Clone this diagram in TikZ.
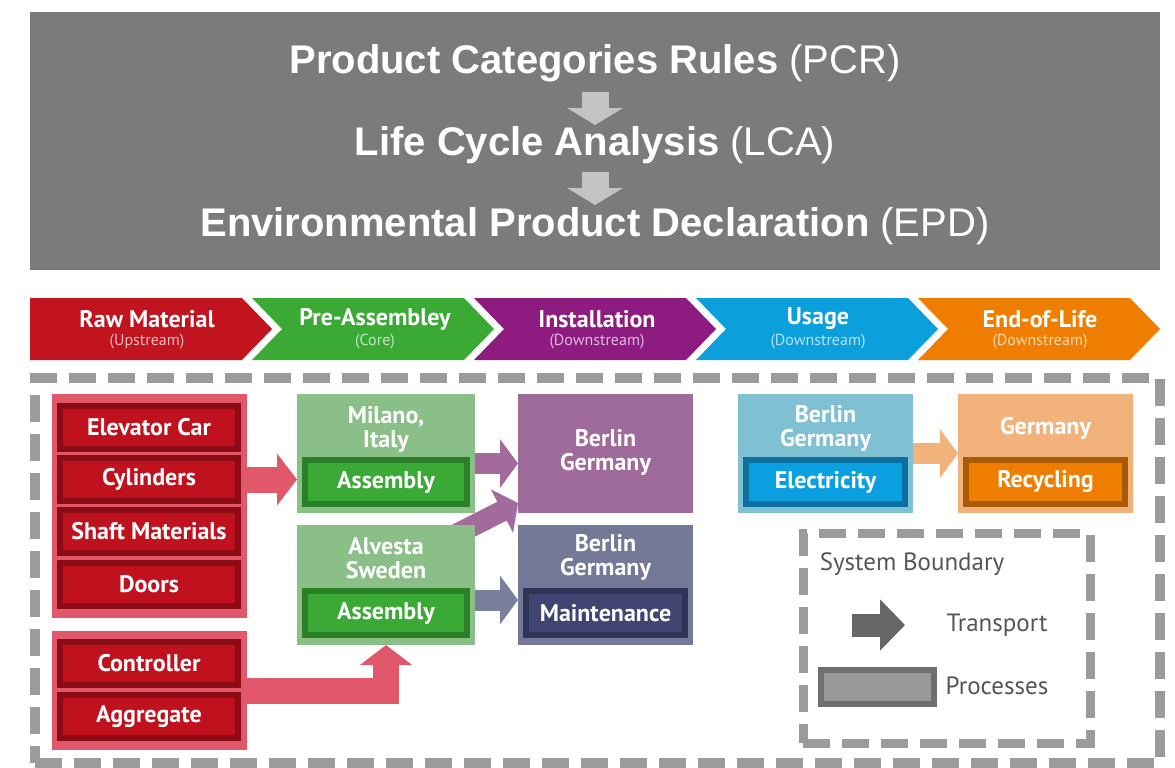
\documentclass[tikz,border=0pt]{standalone}
\usepackage{fontspec}
\setmainfont{PT Sans}
\newfontfamily\headfont{Liberation Sans}
\usetikzlibrary{arrows.meta, positioning}

\definecolor{bannergray}{HTML}{7B7B7B}
\definecolor{bannerarrow}{HTML}{C4C4C4}
\definecolor{rawred}{HTML}{C1141F}
\definecolor{coregreen}{HTML}{3AAA35}
\definecolor{instpurple}{HTML}{8E1B7F}
\definecolor{useblue}{HTML}{0BA0DC}
\definecolor{eolorange}{HTML}{EF7D00}
\definecolor{lightred}{HTML}{E0586A}
\definecolor{partred}{HTML}{C0121E}
\definecolor{partedge}{HTML}{8C0C16}
\definecolor{lightgreen}{HTML}{8BBF88}
\definecolor{asmgreen}{HTML}{3AA935}
\definecolor{asmedge}{HTML}{2A7F27}
\definecolor{boxpurple}{HTML}{9F6B9B}
\definecolor{arrowpurple}{HTML}{A36A9C}
\definecolor{boxslate}{HTML}{737997}
\definecolor{maintslate}{HTML}{3F4470}
\definecolor{maintedge}{HTML}{30345A}
\definecolor{arrowslate}{HTML}{7A7F9E}
\definecolor{lightblue}{HTML}{7FC0D3}
\definecolor{elecblue}{HTML}{0AA0E0}
\definecolor{elecedge}{HTML}{0B6FA0}
\definecolor{lightorange}{HTML}{F2B27C}
\definecolor{recyorange}{HTML}{EF7E00}
\definecolor{recyedge}{HTML}{A95A06}
\definecolor{boundgray}{HTML}{9B9B9B}
\definecolor{legendtext}{HTML}{555555}

\begin{document}
\begin{tikzpicture}[x=1pt, y=-1pt,
    headline/.style={text=white, font=\headfont\fontsize{40}{44}\selectfont, inner sep=0pt},
    downarrow/.style={bannerarrow, line width=27pt, -{Triangle[length=17pt, width=55pt]}},
    stagetitle/.style={text=white, font=\fontsize{24}{26}\selectfont\bfseries},
    stagesub/.style={font=\fontsize{16}{18}\selectfont},
    group/.style={fill=lightred, minimum width=195pt, outer sep=0pt},
    part/.style={draw=partedge, fill=partred, line width=6pt, minimum width=178pt, minimum height=43pt,
        text=white, font=\fontsize{24}{26}\selectfont\bfseries, outer sep=0pt, inner sep=0pt},
    site/.style={minimum width=178pt, minimum height=119pt, outer sep=0pt},
    sitetxt/.style={text=white, font=\fontsize{24}{24}\selectfont\bfseries, align=center, inner sep=0pt},
    proc/.style={line width=6pt, minimum width=162pt, minimum height=44pt, outer sep=0pt, inner sep=0pt,
        text=white, font=\fontsize{24}{26}\selectfont\bfseries},
    bigarrow/.style={line width=26pt, -{Triangle[length=20pt, width=51pt]}},
    midarrow/.style={line width=21pt, -{Triangle[length=18pt, width=48pt]}},
    bounds/.style={draw=boundgray, line width=10pt, dash pattern=on 27pt off 12pt},
    legendtxt/.style={text=legendtext, font=\fontsize{25}{28}\selectfont, inner sep=0pt}
]
    \useasboundingbox (0,0) rectangle (1175,768);

    % header banner
    \node[fill=bannergray, minimum width=1130pt, minimum height=258pt] (banner) at (595,141) {};
    \node[headline] (pcr) at (595,63) {{\bfseries Product Categories Rules} (PCR)};
    \node[headline] (lca) at (595,145) {{\bfseries Life Cycle Analysis} (LCA)};
    \node[headline] (epd) at (595,226) {{\bfseries Environmental Product Declaration} (EPD)};
    \draw[downarrow] ([yshift=-29pt]pcr.center) -- ([yshift=-62pt]pcr.center);
    \draw[downarrow] ([yshift=-27pt]lca.center) -- ([yshift=-60pt]lca.center);

    % life cycle stages
    \fill[rawred] (30,298) -- (242,298) -- (272,329) -- (242,360) -- (30,360) -- cycle;
    \fill[coregreen] (252,298) -- (464,298) -- (494,329) -- (464,360) -- (252,360) -- (282,329) -- cycle;
    \fill[instpurple] (474,298) -- (686,298) -- (716,329) -- (686,360) -- (474,360) -- (504,329) -- cycle;
    \fill[useblue] (696,298) -- (908,298) -- (938,329) -- (908,360) -- (696,360) -- (726,329) -- cycle;
    \fill[eolorange] (918,298) -- (1130,298) -- (1160,329) -- (1130,360) -- (918,360) -- (948,329) -- cycle;
    \node[stagetitle] (raw) at (147,319) {Raw Material};
    \node[stagesub, text=rawred!30] (rawsub) at (147,342) {(Upstream)};
    \node[stagetitle] (pre) at (375,319) {Pre-Assembley};
    \node[stagesub, text=coregreen!30] (presub) at (375,342) {(Core)};
    \node[stagetitle] (inst) at (597,319) {Installation};
    \node[stagesub, text=instpurple!30] (instsub) at (597,342) {(Downstream)};
    \node[stagetitle] (use) at (818,319) {Usage};
    \node[stagesub, text=useblue!30] (usesub) at (818,342) {(Downstream)};
    \node[stagetitle] (end) at (1040,319) {End-of-Life};
    \node[stagesub, text=eolorange!30] (endsub) at (1040,342) {(Downstream)};

    % system boundary
    \node[bounds, minimum width=1125pt, minimum height=385pt] (boundary) at (597.5,570.5) {};

    % transport between sites
    \draw[bigarrow, lightred] (149,690.5) -| (386,645);
    \draw[midarrow, arrowpurple] (455,535) -- (518,503);

    % raw material parts
    \node[group, minimum height=224pt] (parts) at (149.5,506) {};
    \node[part] (car) at (149,427.5) {Elevator Car};
    \node[part] (cyl) at (149,479.5) {Cylinders};
    \node[part] (shaft) at (149,531.5) {Shaft Materials};
    \node[part] (doors) at (149,584) {Doors};
    \node[group, minimum height=119pt] (elec) at (149.5,690.5) {};
    \node[part] (ctrl) at (149,663.5) {Controller};
    \node[part] (aggr) at (149,716.5) {Aggregate};

    % assembly sites
    \node[site, fill=lightgreen] (milano) at (386,453.5) {};
    \node[sitetxt] (milanotxt) at (386,429) {Milano,\\Italy};
    \node[proc, draw=asmedge, fill=asmgreen] (milanoasm) at (386,482) {Assembly};
    \node[site, fill=lightgreen, minimum height=120pt] (alvesta) at (386,585) {};
    \node[sitetxt] (alvestatxt) at (386,558) {Alvesta\\Sweden};
    \node[proc, draw=asmedge, fill=asmgreen] (alvestaasm) at (386,613) {Assembly};

    % installation, usage, end of life
    \node[site, fill=boxpurple, minimum width=175pt] (berlin) at (605.5,453.5) {};
    \node[sitetxt] (berlintxt) at (605.5,452) {Berlin\\Germany};
    \node[site, fill=boxslate, minimum width=175pt, minimum height=120pt] (service) at (605.5,585) {};
    \node[sitetxt] (servicetxt) at (605.5,557) {Berlin\\Germany};
    \node[proc, draw=maintedge, fill=maintslate, minimum width=159pt] (maint) at (605.5,613) {Maintenance};
    \node[site, fill=lightblue, minimum width=175pt] (usage) at (825.5,453.5) {};
    \node[sitetxt] (usagetxt) at (825.5,428) {Berlin\\Germany};
    \node[proc, draw=elecedge, fill=elecblue, minimum width=159pt] (power) at (825.5,482) {Electricity};
    \node[site, fill=lightorange, minimum width=175pt] (eol) at (1045.5,453.5) {};
    \node[sitetxt] (eoltxt) at (1045.5,428) {Germany};
    \node[proc, draw=recyedge, fill=recyorange, minimum width=159pt] (recy) at (1045.5,482) {Recycling};

    \draw[bigarrow, lightred] (parts.east |- cyl) -- (milano.west |- cyl);
    \draw[midarrow, arrowpurple] ([yshift=-10pt]milano.east) -- ([yshift=-10pt]berlin.west);
    \draw[midarrow, arrowslate] ([yshift=-15pt]alvesta.east) -- ([yshift=-15pt]service.west);
    \draw[midarrow, lightorange] (usage.east) -- (eol.west);

    % legend
    \node[bounds, line width=9pt, minimum width=287pt, minimum height=210pt] (legend) at (946.5,638) {};
    \node[legendtxt] (legendtitle) at (912,564) {System Boundary};
    \coordinate (tstart) at (852,625);
    \coordinate (tend) at (905,625);
    \draw[line width=23pt, color=black!60, -{Triangle[length=25pt, width=50pt]}] (tstart) -- (tend);
    \node[legendtxt] (transport) at (997,625) {Transport};
    \node[draw=black!57, fill=black!40, line width=6pt, minimum width=113pt, minimum height=34pt, outer sep=0pt] (sample) at (877.5,687) {};
    \node[legendtxt] (processes) at (997,686) {Processes};
\end{tikzpicture}
\end{document}
